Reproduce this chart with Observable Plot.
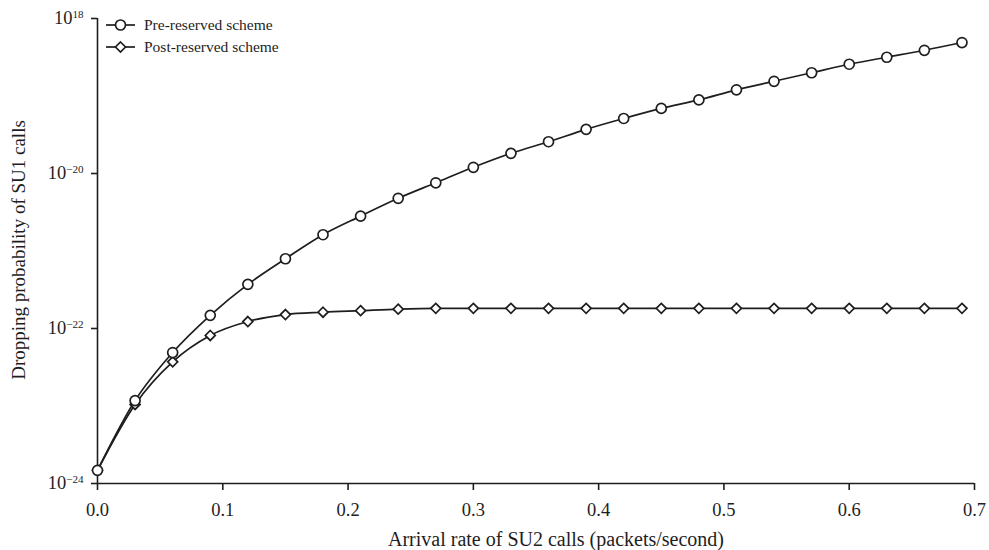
<!DOCTYPE html>
<html><head><meta charset="utf-8">
<script src="https://cdn.jsdelivr.net/npm/d3@7"></script>
<script src="https://cdn.jsdelivr.net/npm/@observablehq/plot@0.6"></script>
<style>
body{margin:0;background:#fff}
svg{font-family:"Liberation Serif","Times New Roman",serif}
</style>
</head><body><div id="chart"></div>
<script>
// Arrival rate of SU2 calls (packets/second)
const arrivalRate = [0.00,0.03,0.06,0.09,0.12,0.15,0.18,0.21,0.24,0.27,0.30,0.33,0.36,0.39,0.42,0.45,0.48,0.51,0.54,0.57,0.60,0.63,0.66,0.69];
// log10 of dropping probability, Pre-reserved scheme
const preLog10 = [-23.83,-22.93,-22.31,-21.83,-21.43,-21.10,-20.79,-20.55,-20.32,-20.12,-19.92,-19.74,-19.59,-19.43,-19.29,-19.16,-19.05,-18.92,-18.81,-18.70,-18.59,-18.50,-18.41,-18.31];
// log10 of dropping probability, Post-reserved scheme
const postLog10 = [-23.83,-22.98,-22.43,-22.09,-21.91,-21.82,-21.79,-21.77,-21.75,-21.74,-21.74,-21.74,-21.74,-21.74,-21.74,-21.74,-21.74,-21.74,-21.74,-21.74,-21.74,-21.74,-21.74,-21.74];
const seriesNames = ["Pre-reserved scheme","Post-reserved scheme"];
const xTicks = [0,0.1,0.2,0.3,0.4,0.5,0.6,0.7];
const yTicks = [1e-24,1e-22,1e-20,1e-18];
const yTickExponents = ["\u221224","\u221222","\u221220","18"];
const xTitle = "Arrival rate of SU2 calls (packets/second)";
const yTitle = "Dropping probability of SU1 calls";

const rows = arrivalRate.map((x,i)=>({x, pre: Math.pow(10, preLog10[i]), post: Math.pow(10, postLog10[i])}));
const ink = "#1e1e1e";
const yLabelOf = d => {
  let best = 0;
  yTicks.forEach((t, i) => { if (Math.abs(Math.log10(t) - Math.log10(d)) < Math.abs(Math.log10(yTicks[best]) - Math.log10(d))) best = i; });
  return "10|" + yTickExponents[best];
};

const chart = Plot.plot({
  width: 989, height: 550,
  marginLeft: 97, marginRight: 15, marginTop: 18, marginBottom: 67,
  style: {fontFamily: "'Liberation Serif', serif", fontSize: "18.5px", color: ink, background: "#fff"},
  x: {domain: [0, 0.7]},
  y: {type: "log", domain: [1e-24, 1e-18]},
  marks: [
    Plot.axisX({ticks: xTicks, tickSize: 7, tickPadding: 12, tickFormat: d => d.toFixed(1), label: null, strokeWidth: 1.6}),
    Plot.axisY({ticks: yTicks, tickSize: 6, tickPadding: 8, label: null, strokeWidth: 1.6, tickFormat: yLabelOf}),
    Plot.ruleY([1e-24], {stroke: ink, strokeWidth: 1.6}),
    Plot.ruleX([0], {stroke: ink, strokeWidth: 1.6}),
    Plot.line(rows, {x: "x", y: "post", curve: "monotone-x", stroke: ink, strokeWidth: 1.7}),
    Plot.line(rows, {x: "x", y: "pre", curve: "monotone-x", stroke: ink, strokeWidth: 1.7}),
    Plot.dot(rows, {x: "x", y: "post", symbol: "diamond2", r: 4.5, fill: "white", stroke: ink, strokeWidth: 1.7}),
    Plot.dot(rows, {x: "x", y: "pre", r: 5, fill: "white", stroke: ink, strokeWidth: 1.7})
  ]
});
document.getElementById("chart").appendChild(chart);

const svg = d3.select(chart);
// superscript exponents on y tick labels
svg.selectAll('[aria-label="y-axis tick label"] text').each(function() {
  const t = d3.select(this);
  const parts = t.text().split("|");
  t.text(parts[0]);
  t.append("tspan").attr("dy", "-0.6em").attr("font-size", "0.6em").text(parts[1]);
});

// axis titles
svg.append("text").attr("x", 556).attr("y", 546).attr("text-anchor", "middle")
  .attr("font-size", 20).attr("fill", ink).text(xTitle);
svg.append("text").attr("transform", "translate(25,250) rotate(-90)").attr("text-anchor", "middle")
  .attr("font-size", 19).attr("fill", ink).text(yTitle);

// legend
const leg = svg.append("g").attr("font-size", 15.5).attr("fill", ink).attr("text-anchor", "start");
seriesNames.forEach((name, i) => {
  const y = 25 + i * 22;
  leg.append("line").attr("x1", 106).attr("x2", 135).attr("y1", y).attr("y2", y).attr("stroke", ink).attr("stroke-width", 1.7);
  if (i === 0) {
    leg.append("circle").attr("cx", 120.5).attr("cy", y).attr("r", 5).attr("fill", "white").attr("stroke", ink).attr("stroke-width", 1.7);
  } else {
    leg.append("path").attr("transform", `translate(120.5,${y})`).attr("d", d3.symbol(d3.symbolDiamond2, 4.5*4.5*Math.PI)()).attr("fill", "white").attr("stroke", ink).attr("stroke-width", 1.7);
  }
  leg.append("text").attr("x", 144).attr("y", y).attr("dy", "0.35em").text(name);
});
</script>
</body></html>
